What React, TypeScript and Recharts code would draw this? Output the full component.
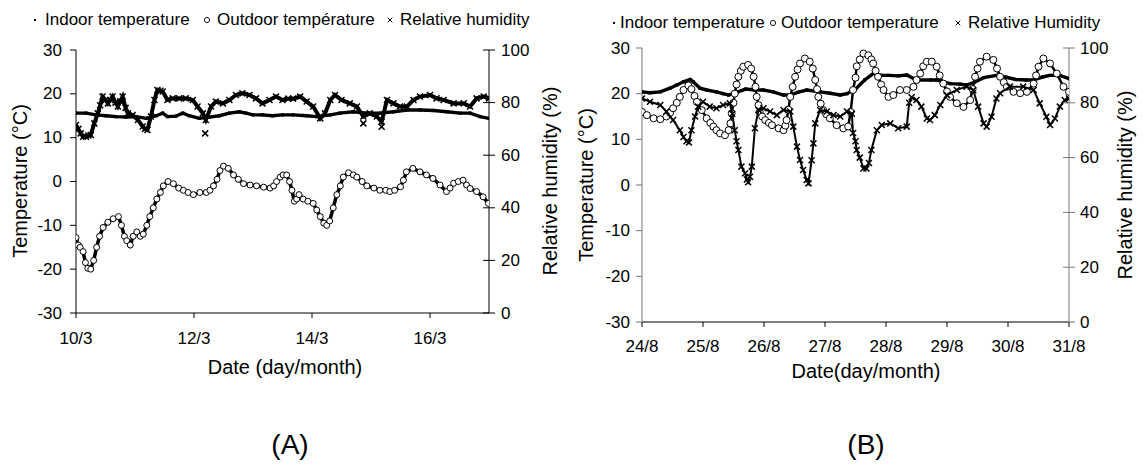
import { ComposedChart, Scatter, XAxis, YAxis } from 'recharts'

const FONT = '"Liberation Sans", Arial, Helvetica, sans-serif'

// shared axis ticks
const tempTicks = [-30, -20, -10, 0, 10, 20, 30]
const rhTicks = [0, 20, 40, 60, 80, 100]

// ---- (A) March, x = days after 10/3 ----
const aDateTicks = [0, 2, 4, 6]
const aDateLabels = ['10/3', '12/3', '14/3', '16/3']

const aIndoorDay = [0, 0.17, 0.34, 0.51, 0.68, 0.85, 1.02, 1.19, 1.36, 1.47, 1.55, 1.69, 1.81, 1.92, 2.09, 2.26, 2.43, 2.6, 2.77, 2.88, 3.0, 3.16, 3.33, 3.5, 3.68, 3.91, 4.08, 4.31, 4.47, 4.7, 4.93, 5.16, 5.38, 5.61, 5.84, 6.06, 6.29, 6.51, 6.68, 6.85, 7.0]
const aIndoorTemp = [15.6, 15.6, 15.2, 15, 14.8, 14.7, 14.8, 14.4, 15, 15.6, 14.8, 14.9, 15.6, 15, 14.4, 14.7, 15, 15.6, 15.9, 15.6, 15.2, 15.2, 15, 15.2, 15.2, 15, 14.8, 15.2, 15.6, 15.9, 15.6, 15.6, 15.9, 16.3, 16.3, 16.2, 15.9, 15.6, 15.6, 14.8, 14.4]

const aOutdoorDay = [0, 0.04, 0.07, 0.12, 0.16, 0.2, 0.25, 0.3, 0.35, 0.4, 0.46, 0.54, 0.63, 0.72, 0.77, 0.82, 0.86, 0.92, 0.97, 1.03, 1.09, 1.14, 1.2, 1.25, 1.31, 1.37, 1.43, 1.48, 1.56, 1.65, 1.74, 1.82, 1.9, 1.99, 2.1, 2.21, 2.27, 2.33, 2.39, 2.44, 2.5, 2.58, 2.67, 2.75, 2.84, 2.95, 3.06, 3.18, 3.29, 3.35, 3.4, 3.46, 3.51, 3.57, 3.62, 3.66, 3.7, 3.74, 3.78, 3.85, 3.93, 4.02, 4.08, 4.14, 4.2, 4.25, 4.3, 4.36, 4.42, 4.48, 4.53, 4.62, 4.7, 4.76, 4.85, 4.93, 5.05, 5.15, 5.25, 5.32, 5.4, 5.5, 5.55, 5.6, 5.71, 5.83, 5.94, 6.05, 6.17, 6.28, 6.34, 6.4, 6.48, 6.56, 6.62, 6.68, 6.79, 6.9, 6.99]
const aOutdoorTemp = [-12.8, -14.5, -15, -16, -18.5, -19.8, -20, -18, -15, -12.5, -10.5, -9.3, -8.5, -8, -10, -12.5, -13.5, -14.5, -12.5, -11.5, -12.5, -12, -10, -8, -6, -4, -2.5, -1, 0, -0.5, -1.5, -2, -2.5, -3, -2.5, -2.5, -2, -1, 0.5, 2.5, 3.5, 3, 1.5, 0.5, -0.5, -0.8, -1, -1.3, -1.5, -1, 0, 1, 1.5, 1.5, 0, -2, -4.5, -4, -3, -4, -4.5, -5, -6.5, -8, -9.5, -10, -9, -6, -3, -1, 1, 2, 1.5, 1, 0, -1, -1.5, -2, -2, -2.3, -2, -1.2, 0.3, 2.2, 3, 2.2, 1.5, 0.7, -0.8, -2.3, -1.5, -0.4, 0, 0.3, -0.8, -1.6, -2.3, -3.5, -5]

const aRhDay = [0, 0.04, 0.08, 0.12, 0.17, 0.21, 0.25, 0.31, 0.37, 0.41, 0.45, 0.5, 0.54, 0.58, 0.62, 0.67, 0.71, 0.75, 0.79, 0.84, 0.88, 0.96, 1.05, 1.13, 1.17, 1.21, 1.27, 1.33, 1.38, 1.43, 1.47, 1.55, 1.64, 1.75, 1.86, 1.98, 2.06, 2.15, 2.2, 2.29, 2.37, 2.49, 2.6, 2.71, 2.82, 2.94, 3.05, 3.16, 3.28, 3.39, 3.5, 3.6, 3.68, 3.8, 3.91, 4.02, 4.14, 4.22, 4.31, 4.39, 4.5, 4.64, 4.76, 4.87, 4.98, 5.1, 5.18, 5.27, 5.38, 5.49, 5.61, 5.72, 5.83, 6.0, 6.11, 6.23, 6.4, 6.57, 6.68, 6.79, 6.91, 7.0]
const aRh = [71.5, 70, 68.3, 67, 67, 67.5, 67.7, 72.1, 75.9, 79, 82.3, 81, 79.7, 81, 82.3, 80, 78.5, 80.5, 82.3, 78, 75.9, 75.3, 73.4, 70.9, 70, 69.6, 74.7, 81, 84.8, 84.5, 84.2, 81, 81.6, 81.6, 81.6, 81, 78.5, 75.9, 73.4, 78.5, 80.4, 79.7, 81, 82.9, 83.5, 82.9, 81.6, 79.7, 81, 82.3, 81, 81.5, 81.5, 82.3, 80.4, 78.5, 74, 75.9, 81, 82.9, 81, 79.7, 78.5, 74.7, 75.9, 74.7, 72.7, 81, 79.7, 78.5, 78.5, 81, 82.3, 82.9, 81.6, 81, 79.7, 79.7, 78.5, 81.6, 82.3, 81.6]
const aRhStrayDay = [2.19, 4.87, 5.18]
const aRhStray = [68.3, 72.1, 70.8]

// ---- (B) August, x = days after 24/8 ----
const bDateTicks = [0, 1, 2, 3, 4, 5, 6, 7]
const bDateLabels = ['24/8', '25/8', '26/8', '27/8', '28/8', '29/8', '30/8', '31/8']

const bIndoorDay = [0, 0.13, 0.3, 0.46, 0.57, 0.68, 0.79, 0.84, 0.95, 1.06, 1.22, 1.33, 1.42, 1.55, 1.7, 1.85, 1.99, 2.15, 2.32, 2.43, 2.55, 2.7, 2.92, 3.08, 3.25, 3.36, 3.5, 3.65, 3.8, 3.92, 4.04, 4.2, 4.34, 4.5, 4.74, 4.83, 4.94, 5.05, 5.21, 5.32, 5.45, 5.6, 5.81, 5.97, 6.13, 6.3, 6.41, 6.58, 6.69, 6.85, 7.0]
const bIndoorTemp = [20.4, 20.2, 20.4, 21.2, 21.9, 22.6, 23.1, 22.6, 21.2, 20.8, 20.4, 20, 19.7, 20.3, 21, 20.8, 20.8, 20.4, 19.7, 19.7, 20.3, 20.8, 20.4, 20.1, 19.7, 20, 21, 23, 24.5, 24, 24, 23.9, 24.1, 23, 23, 23, 22.6, 22.2, 22.1, 21.9, 22.5, 23.5, 24, 23.6, 23.1, 23, 23, 23.7, 24, 24, 23.3]

const bOutdoorDay = [0, 0.08, 0.19, 0.3, 0.4, 0.46, 0.51, 0.57, 0.62, 0.68, 0.76, 0.81, 0.86, 0.9, 0.98, 1.06, 1.12, 1.17, 1.22, 1.28, 1.36, 1.42, 1.45, 1.47, 1.5, 1.52, 1.55, 1.58, 1.62, 1.66, 1.74, 1.79, 1.83, 1.86, 1.88, 1.91, 1.93, 1.97, 2.02, 2.08, 2.13, 2.24, 2.32, 2.35, 2.37, 2.4, 2.43, 2.47, 2.51, 2.55, 2.59, 2.67, 2.75, 2.8, 2.84, 2.87, 2.89, 2.93, 2.97, 3.02, 3.08, 3.19, 3.3, 3.38, 3.42, 3.46, 3.5, 3.52, 3.57, 3.63, 3.71, 3.76, 3.79, 3.83, 3.87, 3.92, 3.96, 4.04, 4.12, 4.23, 4.34, 4.45, 4.5, 4.56, 4.61, 4.67, 4.75, 4.83, 4.88, 4.94, 5.0, 5.05, 5.16, 5.27, 5.38, 5.42, 5.46, 5.5, 5.54, 5.65, 5.76, 5.82, 5.87, 5.93, 5.98, 6.09, 6.2, 6.31, 6.42, 6.46, 6.5, 6.58, 6.69, 6.8, 6.91, 7.0]
const bOutdoorTemp = [16, 15.3, 14.6, 14.4, 15, 15.8, 16.8, 18, 19.3, 20.8, 21.8, 21, 19.5, 18.2, 16.4, 14.6, 13.6, 12.8, 12, 11.3, 10.9, 12, 13.5, 15.7, 18, 20, 22, 23.7, 25, 25.9, 26.3, 25.5, 23.7, 21.5, 19.3, 17.5, 16, 15, 14.2, 13.6, 13.1, 12.4, 12, 13, 14.2, 16.5, 19.3, 21.5, 23.7, 25.3, 26.6, 27.7, 27, 25.5, 23, 21, 19.3, 17.8, 16.4, 15.5, 14.6, 13.1, 12.4, 12.8, 16, 20.8, 23.5, 26, 27.5, 28.8, 28.4, 27.5, 26.6, 25, 23.7, 22, 20.8, 19.3, 19.7, 20.8, 20.8, 21.5, 23, 24.4, 26, 27, 27, 25.9, 24, 22.2, 20.5, 19.3, 17.9, 17.1, 18.6, 21, 23.7, 25.5, 27, 28.1, 27.4, 25.5, 23.7, 22.5, 21.5, 20.4, 20.1, 20.4, 22.2, 24, 25.9, 27.7, 26.6, 24.4, 21.5, 20.4]

const bRhDay = [0, 0.13, 0.3, 0.4, 0.51, 0.62, 0.68, 0.73, 0.77, 0.81, 0.87, 0.92, 1.0, 1.11, 1.22, 1.33, 1.44, 1.48, 1.52, 1.55, 1.58, 1.63, 1.69, 1.72, 1.74, 1.77, 1.8, 1.85, 1.91, 1.99, 2.1, 2.21, 2.32, 2.43, 2.48, 2.54, 2.59, 2.64, 2.7, 2.73, 2.78, 2.81, 2.84, 2.92, 3.03, 3.14, 3.25, 3.36, 3.44, 3.46, 3.5, 3.52, 3.57, 3.63, 3.68, 3.72, 3.76, 3.85, 3.93, 4.07, 4.2, 4.34, 4.38, 4.42, 4.5, 4.58, 4.67, 4.72, 4.8, 4.89, 5.0, 5.16, 5.32, 5.43, 5.51, 5.6, 5.65, 5.73, 5.81, 5.87, 6.03, 6.25, 6.42, 6.52, 6.63, 6.69, 6.77, 6.85, 6.93, 7.0]
const bRh = [81.6, 80.4, 79.2, 76.8, 73.7, 70, 67.5, 66, 65.5, 70, 75, 78.6, 80.4, 78.6, 78, 79.2, 79.8, 76, 70, 66, 62.8, 56.7, 54.3, 52, 51, 53, 56.7, 70.7, 77.4, 78, 76.8, 75.5, 77.4, 76.8, 71.3, 64, 59.1, 55.5, 51.8, 50.6, 59, 65.2, 72.5, 77.4, 76.8, 75.5, 75, 76.8, 76, 69, 66, 62.8, 60, 56, 56, 58, 62.8, 70, 71.9, 72.5, 70.7, 71.3, 80, 82, 81, 78.6, 74.3, 73.7, 75.5, 79.2, 82.8, 84.7, 85.9, 84.7, 78.6, 72.5, 71.3, 74.9, 81.6, 83.5, 85.9, 85.9, 84.7, 79.8, 74.9, 71.9, 74.3, 78.6, 81, 81.6]

const pts = (days: number[], vals: number[]) => days.map((d, i) => ({ d, v: vals[i] }))

// marker shapes
const SmallDot = (p: any) => <rect x={p.cx - 1.6} y={p.cy - 1.6} width={3.2} height={3.2} fill="#000" />
const openCircle = (r: number) => (p: any) => <circle cx={p.cx} cy={p.cy} r={r} fill="#fff" stroke="#000" strokeWidth={1} />
const cross = (h: number) => (p: any) => (
  <path
    d={`M${p.cx - h},${p.cy - h}L${p.cx + h},${p.cy + h}M${p.cx - h},${p.cy + h}L${p.cx + h},${p.cy - h}`}
    stroke="#000"
    strokeWidth={1.5}
  />
)

// custom ticks (tickSize/tickMargin are 0 so x,y sit on the axis line)
const leftTick = (color: string, gap: number) => (p: any) => (
  <g>
    <line x1={p.x - 6} x2={p.x} y1={p.y} y2={p.y} stroke={color} />
    <text x={p.x - gap} y={p.y} textAnchor="end" dominantBaseline="central" fontSize={17} fontFamily={FONT} fill="#000">
      {p.payload.value}
    </text>
  </g>
)
const rightTick = (color: string, gap: number) => (p: any) => (
  <g>
    <line x1={p.x - 6} x2={p.x + 6} y1={p.y} y2={p.y} stroke={color} />
    <text x={p.x + gap} y={p.y} textAnchor="start" dominantBaseline="central" fontSize={17} fontFamily={FONT} fill="#000">
      {p.payload.value}
    </text>
  </g>
)
const bottomTick = (ticks: number[], labels: string[], gap: number) => (p: any) => (
  <g>
    <line x1={p.x} x2={p.x} y1={p.y} y2={p.y + 5} stroke="#000" />
    <text x={p.x} y={p.y + gap} textAnchor="middle" dominantBaseline="central" fontSize={17} fontFamily={FONT} fill="#000">
      {labels[ticks.indexOf(p.payload.value)]}
    </text>
  </g>
)

const Title = ({ x, y, text, rotate, size = 20 }: { x: number; y: number; text: string; rotate?: boolean; size?: number }) => (
  <div
    style={{
      position: 'absolute',
      left: x,
      top: y,
      transform: `translate(-50%, -50%)${rotate ? ' rotate(-90deg)' : ''}`,
      whiteSpace: 'nowrap',
      fontSize: size,
      fontFamily: FONT,
      lineHeight: 1,
      color: '#000',
    }}
  >
    {text}
  </div>
)

const Marker = ({ kind }: { kind: string }) => (
  <svg width={10} height={10} style={{ display: 'block' }}>
    {kind === 'dot' && <rect x={4} y={4} width={2} height={2} fill="#000" />}
    {kind === 'circle' && <circle cx={5} cy={5} r={2.6} fill="#fff" stroke="#000" strokeWidth={0.9} />}
    {kind === 'cross' && <path d="M2.7,2.7L7.3,7.3M2.7,7.3L7.3,2.7" stroke="#000" strokeWidth={1} />}
  </svg>
)

const LegendEntry = ({ mx, tx, y, kind, text }: { mx: number; tx: number; y: number; kind: string; text: string }) => (
  <>
    <div style={{ position: 'absolute', left: mx - 5, top: y - 5 }}>
      <Marker kind={kind} />
    </div>
    <div style={{ position: 'absolute', left: tx, top: y - 10, fontSize: 17, lineHeight: '20px', fontFamily: FONT, whiteSpace: 'nowrap' }}>
      {text}
    </div>
  </>
)

function Panel({
  width,
  margin,
  axisColor,
  dateTicks,
  dateLabels,
  leftGap,
  rightGap,
  bottomGap,
  indoor,
  outdoor,
  rh,
  stray,
  circleR,
  outLine,
  crossH,
  rhLine,
}: any) {
  const Circle = openCircle(circleR)
  const Cross = cross(crossH)
  return (
    <ComposedChart width={width} height={400} margin={margin}>
      <XAxis
        type="number"
        dataKey="d"
        domain={[0, 7]}
        ticks={dateTicks}
        interval={0}
        allowDataOverflow
        height={30}
        tickSize={0}
        tickMargin={0}
        axisLine={{ stroke: '#000' }}
        tick={bottomTick(dateTicks, dateLabels, bottomGap)}
      />
      <YAxis
        yAxisId="t"
        type="number"
        dataKey="v"
        domain={[-30, 30]}
        ticks={tempTicks}
        interval={0}
        allowDataOverflow
        width={40}
        tickSize={0}
        tickMargin={0}
        axisLine={{ stroke: axisColor }}
        tick={leftTick(axisColor, leftGap)}
      />
      <YAxis
        yAxisId="rh"
        orientation="right"
        type="number"
        dataKey="v"
        domain={[0, 100]}
        ticks={rhTicks}
        interval={0}
        allowDataOverflow
        width={40}
        tickSize={0}
        tickMargin={0}
        axisLine={{ stroke: axisColor }}
        tick={rightTick(axisColor, rightGap)}
      />
      <Scatter yAxisId="t" data={indoor} dataKey="v" line={{ stroke: '#000', strokeWidth: 3.4 }} shape={SmallDot} isAnimationActive={false} />
      <Scatter yAxisId="t" data={outdoor} dataKey="v" line={{ stroke: '#000', strokeWidth: outLine }} shape={Circle} isAnimationActive={false} />
      <Scatter yAxisId="rh" data={rh} dataKey="v" line={{ stroke: '#000', strokeWidth: rhLine }} shape={Cross} isAnimationActive={false} />
      {stray && <Scatter yAxisId="rh" data={stray} dataKey="v" shape={Cross} isAnimationActive={false} />}
    </ComposedChart>
  )
}

export default function App() {
  return (
    <div style={{ position: 'absolute', left: 0, top: 0, width: 1143, height: 469, background: '#fff', fontFamily: FONT }}>
      {/* (A) */}
      <div style={{ position: 'absolute', left: 0, top: 0 }}>
        <Panel
          width={570}
          margin={{ top: 50, right: 41, bottom: 57, left: 36 }}
          axisColor="#000"
          dateTicks={aDateTicks}
          dateLabels={aDateLabels}
          leftGap={14}
          rightGap={12}
          bottomGap={25}
          indoor={pts(aIndoorDay, aIndoorTemp)}
          outdoor={pts(aOutdoorDay, aOutdoorTemp)}
          rh={pts(aRhDay, aRh)}
          stray={pts(aRhStrayDay, aRhStray)}
          circleR={3}
          outLine={3.5}
          crossH={3}
          rhLine={4}
        />
      </div>
      <LegendEntry mx={35} tx={45} y={20} kind="dot" text="Indoor temperature" />
      <LegendEntry mx={207} tx={217} y={20} kind="circle" text="Outdoor température" />
      <LegendEntry mx={390} tx={400} y={20} kind="cross" text="Relative humidity" />
      <Title x={20} y={181} text="Temperature (°C)" rotate />
      <Title x={550} y={181} text="Relative humidity (%)" rotate />
      <Title x={285} y={367} text="Date (day/month)" />
      <Title x={290} y={445} text="(A)" size={28} />

      {/* (B) */}
      <div style={{ position: 'absolute', left: 570, top: 0 }}>
        <Panel
          width={573}
          margin={{ top: 48, right: 34, bottom: 48, left: 32 }}
          axisColor="#777"
          dateTicks={bDateTicks}
          dateLabels={bDateLabels}
          leftGap={12}
          rightGap={11}
          bottomGap={24}
          indoor={pts(bIndoorDay, bIndoorTemp)}
          outdoor={pts(bOutdoorDay, bOutdoorTemp)}
          rh={pts(bRhDay, bRh)}
          circleR={3.5}
          outLine={2.5}
          crossH={3}
          rhLine={2}
        />
      </div>
      <LegendEntry mx={614} tx={620} y={23} kind="dot" text="Indoor temperature" />
      <LegendEntry mx={773} tx={781} y={23} kind="circle" text="Outdoor temperature" />
      <LegendEntry mx={958} tx={968} y={23} kind="cross" text="Relative Humidity" />
      <Title x={586} y={185} text="Temperature (°C)" rotate />
      <Title x={1125} y={185} text="Relative humidity (%)" rotate />
      <Title x={866} y={371} text="Date(day/month)" />
      <Title x={866} y={445} text="(B)" size={28} />
    </div>
  )
}
